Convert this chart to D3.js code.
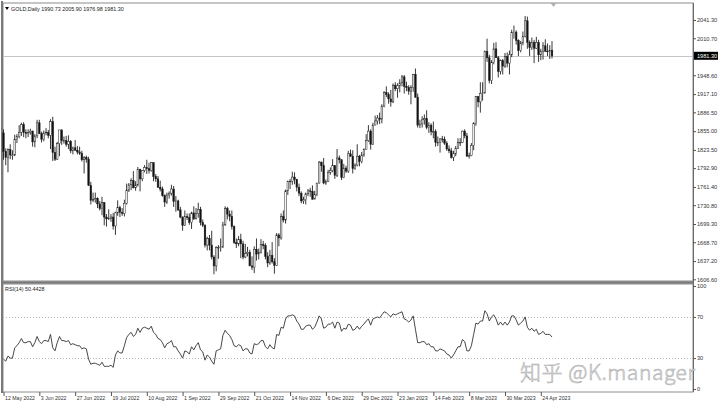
<!DOCTYPE html>
<html>
<head>
<meta charset="utf-8">
<script src="https://cdn.jsdelivr.net/npm/d3@7"></script>
<style>
  body { margin: 0; background: #fff; }
  svg { display: block; font-family: "Liberation Sans", Arial, sans-serif; }
</style>
</head>
<body>
<svg id="chart" width="720" height="406"></svg>
<script>
(function(){
    'use strict';

    // date labels on the time axis (bar index -> text)
    const tickIdx = [0,16,32,48,64,80,96,112,128,144,160,176,192,208,224,240];
    const tickLabels = ['12 May 2022','3 Jun 2022','27 Jun 2022','19 Jul 2022','10 Aug 2022','1 Sep 2022',
        '29 Sep 2022','21 Oct 2022','14 Nov 2022','6 Dec 2022','29 Dec 2022','23 Jan 2023',
        '14 Feb 2023','8 Mar 2023','30 Mar 2023','24 Apr 2023'];

    const priceTicks = [1606.60,1637.20,1668.70,1699.30,1730.80,1761.40,1792.90,1823.50,
        1855.00,1886.50,1917.10,1948.60,2010.70,2041.30];
    const rsiTicks = [0,30,70,100];
    const lastPrice = 1981.30;

    // daily OHLC, GOLD
    const open = [
        1852,1821,1811,1824,1815,1815,1841,1846,1853,1866,
        1853,1851,1853,1855,1837,1847,1869,1851,1841,1852,
        1853,1848,1871,1819,1808,1834,1857,1839,1839,1833,
        1838,1822,1827,1823,1820,1818,1807,1811,1808,1764,
        1739,1740,1742,1733,1725,1735,1711,1708,1709,1711,
        1696,1718,1727,1719,1717,1734,1756,1765,1772,1760,
        1765,1791,1775,1789,1794,1792,1789,1802,1779,1775,
        1761,1758,1747,1736,1748,1751,1758,1737,1738,1723,
        1711,1697,1712,1710,1702,1718,1708,1717,1724,1702,
        1697,1664,1675,1664,1644,1629,1660,1660,1661,1698,
        1725,1716,1712,1695,1668,1666,1673,1666,1644,1650,
        1652,1629,1627,1657,1649,1652,1665,1663,1645,1634,
        1647,1636,1630,1681,1676,1712,1706,1755,1771,1771,
        1778,1774,1761,1751,1738,1740,1750,1755,1754,1741,
        1749,1768,1803,1797,1768,1771,1786,1789,1797,1781,
        1810,1807,1777,1793,1788,1817,1813,1792,1798,1813,
        1804,1815,1824,1839,1855,1833,1865,1872,1877,1875,
        1897,1920,1916,1909,1904,1932,1926,1931,1936,1946,
        1930,1928,1922,1928,1950,1912,1865,1867,1874,1876,
        1861,1865,1854,1854,1836,1836,1842,1841,1835,1825,
        1822,1811,1817,1826,1836,1836,1855,1847,1813,1814,
        1831,1868,1913,1904,1918,1919,1989,1978,1940,1970,
        1993,1978,1955,1973,1964,1980,1969,1983,2020,2021,
        2007,1990,2003,2014,2040,2004,1995,2004,1994,2004,
        1983,1989,1998,1989,1989,1990.73];
    const high = [
        1858,1826,1826,1833,1823,1849,1850,1865,1869,1870,
        1858,1858,1859,1856,1850,1874,1874,1854,1856,1860,
        1857,1875,1879,1829,1837,1857,1858,1846,1847,1848,
        1840,1829,1840,1830,1829,1822,1813,1814,1812,1770,
        1752,1752,1744,1738,1745,1736,1716,1724,1716,1718,
        1720,1739,1730,1726,1740,1767,1768,1776,1788,1771,
        1795,1792,1790,1798,1807,1802,1803,1802,1783,1780,
        1772,1762,1749,1752,1754,1765,1763,1746,1740,1728,
        1712,1722,1717,1717,1720,1729,1726,1735,1728,1707,
        1699,1678,1681,1688,1647,1662,1664,1675,1703,1729,
        1728,1722,1722,1697,1675,1679,1683,1671,1666,1661,
        1656,1645,1662,1675,1658,1674,1671,1667,1652,1656,
        1669,1642,1684,1684,1717,1722,1757,1772,1775,1787,
        1786,1775,1767,1754,1745,1752,1758,1760,1764,1755,
        1768,1805,1804,1810,1774,1790,1794,1808,1798,1825,
        1814,1808,1800,1797,1822,1824,1823,1801,1833,1815,
        1820,1826,1850,1865,1858,1869,1881,1882,1886,1900,
        1922,1930,1920,1924,1935,1937,1935,1942,1949,1949,
        1938,1932,1932,1951,1960,1918,1874,1880,1883,1890,
        1870,1868,1871,1858,1846,1843,1847,1846,1838,1831,
        1827,1822,1830,1843,1843,1856,1858,1852,1819,1835,
        1870,1914,1914,1937,1937,1990,2010,1983,1974,2003,
        2004,1981,1975,1976,1986,1987,1990,2025,2032,2024,
        2009,2006,2022,2048,2047,2007,2012,2008,2013,2008,
        1993,2004,2009,2002,1999,2005.90];
    const low = [
        1807,1798,1786,1808,1807,1813,1835,1843,1847,1845,
        1843,1845,1849,1829,1828,1843,1850,1836,1838,1848,
        1843,1825,1805,1805,1807,1813,1832,1834,1829,1825,
        1818,1816,1822,1816,1815,1804,1784,1802,1763,1732,
        1736,1735,1726,1722,1714,1697,1695,1706,1703,1690,
        1681,1713,1711,1713,1712,1732,1753,1756,1759,1755,
        1762,1754,1771,1786,1783,1784,1787,1771,1770,1760,
        1754,1745,1728,1733,1742,1747,1728,1720,1721,1709,
        1688,1696,1706,1698,1691,1706,1707,1710,1697,1694,
        1660,1655,1655,1640,1615,1620,1641,1653,1659,1696,
        1707,1704,1690,1666,1659,1662,1642,1640,1642,1645,
        1629,1622,1617,1638,1640,1650,1657,1640,1627,1631,
        1633,1616,1629,1662,1673,1702,1700,1748,1758,1765,
        1766,1754,1746,1734,1733,1732,1746,1745,1740,1741,
        1746,1767,1787,1766,1765,1770,1782,1786,1775,1778,
        1801,1773,1776,1785,1785,1812,1784,1790,1796,1796,
        1801,1812,1824,1837,1824,1832,1865,1866,1867,1868,
        1895,1912,1901,1896,1902,1922,1911,1920,1930,1918,
        1922,1916,1900,1921,1911,1861,1860,1861,1866,1858,
        1852,1848,1843,1829,1830,1819,1836,1832,1822,1818,
        1809,1805,1813,1825,1830,1835,1843,1812,1809,1813,
        1823,1864,1895,1886,1906,1918,1971,1935,1934,1967,
        1978,1945,1950,1950,1961,1962,1950,1979,2010,2000,
        1981,1987,1999,2012,1993,1981,1991,1969,1993,1971,
        1974,1975,1988,1981,1976,1976.98];
    const close = [
        1821,1811,1824,1815,1815,1841,1846,1853,1866,1853,
        1851,1853,1855,1837,1847,1869,1851,1841,1852,1853,
        1848,1871,1819,1808,1834,1857,1839,1839,1833,1838,
        1822,1827,1823,1820,1818,1807,1811,1808,1764,1739,
        1740,1742,1733,1725,1735,1711,1708,1709,1711,1696,
        1718,1727,1719,1717,1734,1756,1765,1772,1760,1765,
        1791,1775,1789,1794,1792,1789,1802,1779,1775,1761,
        1758,1747,1736,1748,1751,1758,1737,1738,1723,1711,
        1697,1712,1710,1702,1718,1708,1717,1724,1702,1697,
        1664,1675,1664,1644,1629,1660,1660,1661,1698,1725,
        1716,1712,1695,1668,1666,1673,1666,1644,1650,1652,
        1629,1627,1657,1649,1652,1665,1663,1645,1634,1647,
        1636,1630,1681,1676,1712,1706,1755,1771,1771,1778,
        1774,1761,1751,1738,1740,1750,1755,1754,1741,1749,
        1768,1803,1797,1768,1771,1786,1789,1797,1781,1810,
        1807,1777,1793,1788,1817,1813,1792,1798,1813,1804,
        1815,1824,1839,1855,1833,1865,1872,1877,1875,1897,
        1920,1916,1909,1904,1932,1926,1931,1936,1946,1930,
        1928,1922,1928,1950,1912,1865,1867,1874,1876,1861,
        1865,1854,1854,1836,1836,1842,1841,1835,1825,1822,
        1811,1817,1826,1836,1836,1855,1847,1813,1814,1831,
        1868,1913,1904,1918,1919,1989,1978,1940,1970,1993,
        1978,1955,1973,1964,1980,1969,1983,2020,2021,2007,
        1990,2003,2014,2040,2004,1995,2004,1994,2004,1983,
        1989,1998,1989,1989,1990,1981.30];

    // RSI(14)
    const rsi = [
        29,27,32,30,30,40,42,45,49,45,
        45,46,46,41,45,51,46,44,47,47,
        46,53,40,37,45,51,47,47,46,47,
        43,44,43,42,42,39,40,39,29,24,
        25,25,24,23,26,22,22,22,23,21,
        33,37,35,35,42,50,53,55,51,53,
        59,55,59,60,59,58,61,55,53,49,
        48,45,40,44,45,47,41,41,37,34,
        30,37,36,34,41,38,42,45,38,36,
        28,33,31,27,24,37,38,39,52,57,
        54,52,48,42,41,43,42,37,39,39,
        35,34,44,43,44,47,47,41,39,43,
        40,39,53,52,60,59,68,71,71,72,
        71,66,63,58,58,61,62,62,58,60,
        65,71,68,59,60,63,63,65,59,65,
        64,56,59,58,63,62,57,58,61,58,
        61,63,66,68,62,68,69,70,69,72,
        75,74,72,70,73,72,73,74,75,68,
        67,65,67,71,58,45,45,46,46,43,
        44,41,41,37,37,39,38,37,34,33,
        30,33,37,41,41,48,46,37,37,42,
        53,64,63,66,66,76,73,66,70,72,
        68,62,65,62,65,62,65,71,71,67,
        62,64,66,70,60,57,59,56,58,53,
        54,56,53,53,53,50.4428];

    const bars = close.map((c, i) => ({ i: i, o: open[i], h: high[i], l: low[i], c: c }));

    const svg = d3.select('#chart');
    const left = 3, right = 693;
    const mainTop = 3, mainBottom = 281;
    const rsiTop = 284, rsiBottom = 392;
    const font = '"Liberation Sans", Arial, sans-serif';

    const x = d3.scaleLinear().domain([0, 245]).range([3.5, 552]);
    const y = d3.scaleLinear().domain([1606.6, 2041.3]).range([279.3, 20]);
    const yR = d3.scaleLinear().domain([0, 100]).range([389, 286]);

    // frames
    svg.append('rect').attr('x', left).attr('y', mainTop)
        .attr('width', right - left).attr('height', mainBottom - mainTop)
        .attr('fill', '#fff').attr('stroke', '#8c8c8c').attr('stroke-width', 1);
    svg.append('rect').attr('x', left).attr('y', rsiTop)
        .attr('width', right - left).attr('height', rsiBottom - rsiTop)
        .attr('fill', '#fff').attr('stroke', '#8c8c8c').attr('stroke-width', 1);
    svg.append('line') // separator between panes
        .attr('x1', left).attr('x2', right).attr('y1', 282.5).attr('y2', 282.5)
        .attr('stroke', '#7a7a7a').attr('stroke-width', 2.5);
    svg.append('line')
        .attr('x1', 2).attr('x2', 2).attr('y1', 1).attr('y2', rsiBottom + 1)
        .attr('stroke', '#7a7a7a').attr('stroke-width', 2);

    // last price line
    svg.append('line')
        .attr('x1', left).attr('x2', right)
        .attr('y1', Math.round(y(lastPrice)) + 0.5).attr('y2', Math.round(y(lastPrice)) + 0.5)
        .attr('stroke', '#c4c4c4').attr('stroke-width', 1);

    // candles
    const g = svg.append('g');
    g.selectAll('line.wick')
        .data(bars)
        .join('line')
        .attr('class', 'wick')
        .attr('x1', d => x(d.i)).attr('x2', d => x(d.i))
        .attr('y1', d => y(d.h)).attr('y2', d => y(d.l))
        .attr('stroke', '#222').attr('stroke-width', 0.9);

    g.selectAll('rect.body')
        .data(bars)
        .join('rect')
        .attr('class', 'body')
        .attr('x', d => x(d.i) - 0.8)
        .attr('width', 1.6)
        .attr('y', d => y(Math.max(d.o, d.c)))
        .attr('height', d => Math.max(0.6, Math.abs(y(d.o) - y(d.c))))
        .attr('fill', d => d.c >= d.o ? '#fff' : '#111')
        .attr('stroke', '#222').attr('stroke-width', 0.5);

    // price axis
    const yAxis = d3.axisRight(y).tickValues(priceTicks).tickSize(3)
        .tickFormat(d3.format('.2f'));
    const ya = svg.append('g').attr('transform', `translate(${right},0)`).call(yAxis);
    ya.select('.domain').attr('stroke', '#6a6a6a').attr('d', `M0.5,${mainTop}V${rsiBottom}`);
    ya.selectAll('.tick line').attr('stroke', '#555');
    ya.selectAll('.tick text').attr('x', 4).attr('font-size', 5.6).attr('fill', '#333')
        .attr('font-family', font);

    // current price tag
    const tag = svg.append('g').attr('transform', `translate(${right + 1},${y(lastPrice)})`);
    tag.append('rect').attr('x', 0).attr('y', -4).attr('width', 24).attr('height', 8).attr('fill', '#000');
    tag.append('text').attr('x', 3).attr('y', 2).attr('font-size', 5.6).attr('fill', '#fff')
        .text(d3.format('.2f')(lastPrice));

    // top marker
    svg.append('path').attr('d', `M${x(245) + 1.5},7 l-3,-4 h6 z`).attr('fill', '#b0b0b0');

    // header
    svg.append('path').attr('d', 'M5,7 l2,3 l2,-3 z').attr('fill', '#000');
    svg.append('text').attr('x', 11).attr('y', 10.5).attr('font-size', 5.4).attr('fill', '#222')
        .text('GOLD,Daily  ' + [open[245], high[245], low[245], close[245]].map(d3.format('.2f')).join(' '));

    // RSI pane
    svg.append('g').selectAll('line')
        .data([30, 70])
        .join('line')
        .attr('x1', left).attr('x2', right)
        .attr('y1', d => Math.round(yR(d)) + 0.5).attr('y2', d => Math.round(yR(d)) + 0.5)
        .attr('stroke', '#b8b8b8').attr('stroke-dasharray', '1,2');

    svg.append('path')
        .datum(rsi)
        .attr('fill', 'none')
        .attr('stroke', '#333').attr('stroke-width', 0.9)
        .attr('d', d3.line().x((d, i) => x(i)).y(d => yR(d)));

    const ra = svg.append('g').attr('transform', `translate(${right},0)`)
        .call(d3.axisRight(yR).tickValues(rsiTicks).tickSize(3));
    ra.select('.domain').remove();
    ra.selectAll('.tick line').attr('stroke', '#555');
    ra.selectAll('.tick text').attr('x', 4).attr('font-size', 5.6).attr('fill', '#333')
        .attr('font-family', font);

    svg.append('text').attr('x', 5).attr('y', 291).attr('font-size', 5.4).attr('fill', '#222')
        .text('RSI(14) ' + d3.format('.4f')(rsi[rsi.length - 1]));

    // time axis
    const xa = svg.append('g').attr('transform', `translate(0,${rsiBottom})`)
        .call(d3.axisBottom(x).tickValues(tickIdx).tickSize(4)
            .tickFormat((d, i) => tickLabels[i]));
    xa.select('.domain').remove();
    xa.selectAll('.tick line').attr('stroke', '#555');
    xa.selectAll('.tick text').attr('text-anchor', 'start').attr('x', 1).attr('y', 4.5)
        .attr('font-size', 5.2).attr('fill', '#333')
        .attr('font-family', font);

    // watermark
    svg.append('text').attr('x', 520).attr('y', 380)
        .attr('font-family', '"Noto Sans CJK SC", "Noto Sans", sans-serif')
        .attr('font-weight', 300)
        .attr('font-size', 21)
        .attr('textLength', 175).attr('lengthAdjust', 'spacing')
        .attr('fill', '#e2e2e2').attr('stroke', '#a9a9a9').attr('stroke-width', 0.5)
        .text('知乎 @K.manager');
})();
</script>
</body>
</html>
